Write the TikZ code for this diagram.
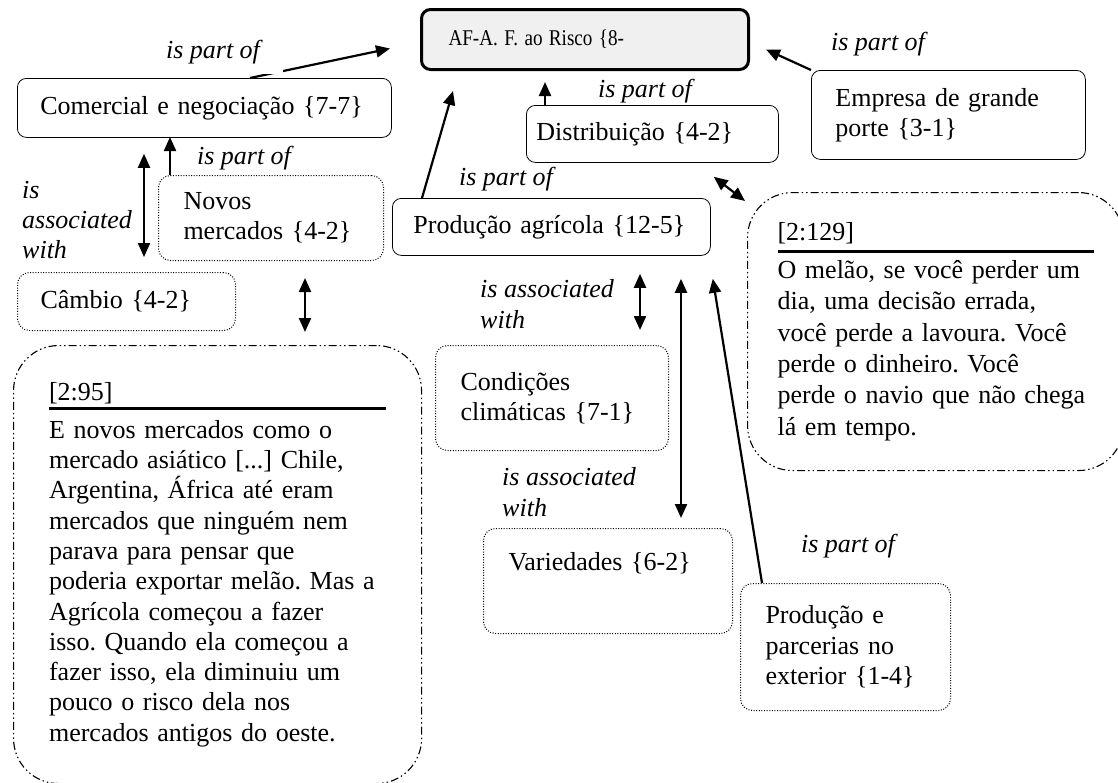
\documentclass[tikz,border=0pt]{standalone}
\usepackage{fontspec}
\setmainfont{Liberation Serif}
\usepackage{graphicx}
\usetikzlibrary{arrows.meta}
\frenchspacing

\begin{document}
\begin{tikzpicture}[x=1pt,y=-1pt,>={Triangle[length=14pt,width=12pt]},
      code/.style={draw,rounded corners=9pt,anchor=north west,align=left,inner ysep=0pt,
                   font=\fontsize{26}{30.3}\selectfont,line width=.8pt},
      loose/.style={code,rounded corners=12pt,dash pattern=on 1pt off 1.6pt,line width=1pt},
      quote/.style={draw,rounded corners=45pt,anchor=north west,align=left,inner ysep=0pt,
                    dash pattern=on 8pt off 3pt on 1.5pt off 3pt on 1.5pt off 3pt,line width=1.1pt},
      rel/.style={->,line width=2.2pt},
      assoc/.style={<->,line width=2.2pt},
      lbl/.style={font=\fontsize{26}{30.3}\selectfont\itshape,align=left,inner sep=0pt}]
    \useasboundingbox (0,0) rectangle (1118,782);
    % codes
    \node[code,line width=3pt,fill=black!6,minimum height=60pt,text width=273pt,inner xsep=27pt,
          font=\fontsize{22.5}{27}\selectfont] (af) at (420,8) {\scalebox{0.85}[1]{AF-A. F. ao Risco \{8-}};
    \node[code,minimum height=59pt,text width=328pt,inner xsep=23pt] (com) at (17,78) {Comercial e negociação \{7-7\}};
    \node[code,minimum height=89pt,text width=226pt,inner xsep=24pt] (emp) at (811,70) {Empresa de grande\\porte \{3-1\}};
    \node[code,minimum height=57pt,text width=232pt,inner xsep=10pt] (dist) at (526,105) {Distribuição \{4-2\}};
    \node[code,minimum height=57pt,text width=276pt,inner xsep=21pt] (prod) at (392,198) {Produção agrícola \{12-5\}};
    \node[loose,minimum height=85pt,text width=175pt,inner xsep=25pt] (novos) at (158,175) {Novos\\mercados \{4-2\}};
    \node[loose,minimum height=58pt,text width=172pt,inner xsep=23pt] (camb) at (17,272) {Câmbio \{4-2\}};
    \node[loose,minimum height=105pt,text width=183pt,inner xsep=25pt] (cond) at (435,345) {Condições\\climáticas \{7-1\}};
    \node[loose,minimum height=105pt,text width=199pt,inner xsep=25pt] (var) at (483,528) {Variedades \{6-2\}\\\strut};
    \node[loose,minimum height=127pt,text width=160pt,inner xsep=25pt] (parc) at (740,583) {Produção e\\parcerias no\\exterior \{1-4\}};
    % quotations
    \node[quote,minimum height=438pt,text width=337pt,inner xsep=35.5pt,font=\fontsize{26}{30.3}\selectfont] (q95) at (13,345)
      {[2:95]\\[-20.3pt]\rule{337pt}{3pt}\\[-2.3pt]E novos mercados como o\\mercado asiático [...] Chile,\\Argentina, África até eram\\mercados que ninguém nem\\parava para pensar que\\poderia exportar melão. Mas a\\Agrícola começou a fazer\\isso. Quando ela começou a\\fazer isso, ela diminuiu um\\pouco o risco dela nos\\mercados antigos do oeste.};
    \node[quote,minimum height=278pt,text width=316pt,inner xsep=30pt,font=\fontsize{26}{31.3}\selectfont] (q129) at (747,192)
      {[2:129]\\[-18.8pt]\rule{316pt}{3pt}\\[-5.8pt]O melão, se você perder um\\dia, uma decisão errada,\\você perde a lavoura. Você\\perde o dinheiro. Você\\perde o navio que não chega\\lá em tempo.};
    % links
    \draw[rel] ([xshift=233pt]com.north west) -- ([xshift=-30pt,yshift=-9pt]af.west);
    \node[lbl,fill=white,minimum width=140pt,minimum height=44pt] (lcom) at (213,52) {is part of};
    \draw[rel] (emp.north west) -- ([xshift=16pt,yshift=-10pt]af.east);
    \node[lbl] (lemp) at (878,44) {is part of};
    \draw[rel] ([xshift=19pt]dist.north west) -- ++(0,-23);
    \node[lbl] (ldist) at (645,91) {is part of};
    \draw[rel] ([xshift=30pt]prod.north west) -- ([xshift=33pt,yshift=-20pt]af.south west);
    \node[lbl] (lprod) at (506,179) {is part of};
    \draw[assoc] ([xshift=-65pt,yshift=-14pt]dist.south east) -- ([xshift=-2pt,yshift=-9pt]q129.north west);
    \draw[rel] ([xshift=12pt]novos.north west) -- ++(0,-38);
    \node[lbl] (lnov) at (244,158) {is part of};
    \draw[assoc] ([xshift=127pt,yshift=-16pt]com.south west) -- ([xshift=127pt,yshift=15pt]camb.north west);
    \node[lbl,anchor=west] (lcam) at (22,220) {is\\associated\\with};
    \draw[assoc] ([xshift=147pt,yshift=-17pt]novos.south west) -- ([xshift=292pt,yshift=13pt]q95.north west);
    \draw[assoc] ([xshift=248pt,yshift=-18pt]prod.south west) -- ([xshift=205pt,yshift=15pt]cond.north west);
    \node[lbl,anchor=west] (lcond) at (480,304) {is associated\\with};
    \draw[assoc] ([xshift=289pt,yshift=-23pt]prod.south west) -- ([xshift=198pt,yshift=10pt]var.north west);
    \node[lbl,anchor=west] (lvar) at (502,492) {is associated\\with};
    \draw[rel] ([xshift=22pt]parc.north west) -- ([xshift=2pt,yshift=-23pt]prod.south east);
    \node[lbl] (lparc) at (848,546) {is part of};
\end{tikzpicture}
\end{document}
